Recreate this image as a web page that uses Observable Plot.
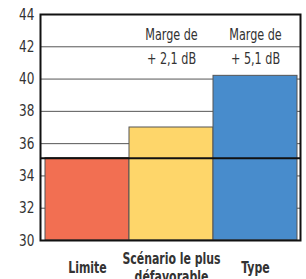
<!DOCTYPE html>
<html><head><meta charset="utf-8">
<script src="https://cdn.jsdelivr.net/npm/d3@7"></script>
<script src="https://cdn.jsdelivr.net/npm/@observablehq/plot@0.6"></script>
<style>body{margin:0;background:#fff}</style>
</head><body><div id="chart"></div>
<script>
const categories = ["Limite", "Scénario le plus\ndéfavorable", "Type"];
const values = [35.1, 37.0, 40.2];
const colors = ["#F26F52", "#FED66A", "#488CCC"];
const marginLabels = ["", "Marge de\n+ 2,1 dB", "Marge de\n+ 5,1 dB"];
const limitValue = 35.1;
const yTicks = [30, 32, 34, 36, 38, 40, 42, 44];

const data = categories.map((c, i) => ({cat: c, value: values[i], color: colors[i], note: marginLabels[i]}));
const font = "'DejaVu Sans Condensed', 'DejaVu Sans', sans-serif";

const chart = Plot.plot({
  width: 306, height: 279,
  marginLeft: 44, marginRight: 9, marginTop: 14, marginBottom: 39,
  style: {fontFamily: font, background: "#fff"},
  x: {domain: categories, padding: 0, axis: null},
  y: {domain: [30, 44], label: null},
  marks: [
    Plot.ruleY(yTicks.slice(1, -1), {stroke: "#555", strokeWidth: 1, strokeOpacity: 1, insetLeft: -4, insetRight: -3}),
    Plot.barY(data, {x: "cat", y1: 30, y2: "value", fill: "color", stroke: "#555", strokeWidth: 1}),
    Plot.ruleY([limitValue], {stroke: "#111", strokeWidth: 2, insetLeft: -4, insetRight: -3}),
    Plot.frame({stroke: "#111", strokeWidth: 2, insetLeft: -4, insetRight: -3}),
    Plot.axisY({ticks: yTicks, tickSize: 0, tickPadding: 10, fontSize: 16, label: null}),
    Plot.text(data, {x: "cat", text: "note", frameAnchor: "top", dy: 30, lineAnchor: "middle", lineHeight: 1.5, fontSize: 16, fill: "#333"}),
    Plot.text(data, {x: "cat", text: "cat", frameAnchor: "bottom", dy: 27, lineAnchor: "middle", lineHeight: 1.1, fontSize: 16, fontWeight: "bold", fill: "#333"})
  ]
});
// condense the text horizontally to mimic the narrow typeface
d3.select(chart).selectAll("text").each(function() {
  const txt = this.textContent;
  let s = 0.76;
  if (/^\d+$/.test(txt)) s = 0.84;
  else if (/Marge/.test(txt)) s = 0.78;
  const t = this.getAttribute("transform") || "";
  this.setAttribute("transform", t + ` scale(${s},1)`);
  this.style.fill = "#333";
});
document.getElementById("chart").appendChild(chart);
</script>
</body></html>
